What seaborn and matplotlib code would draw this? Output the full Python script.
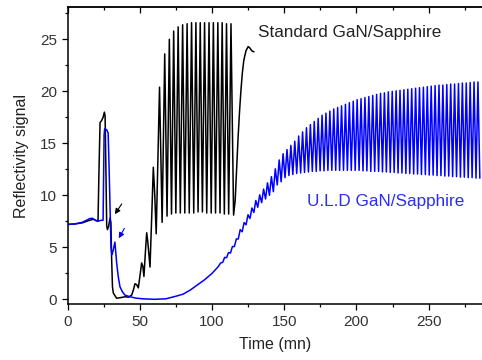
import pandas as pd
import seaborn as sns
from matplotlib import pyplot as plt
from matplotlib.ticker import MultipleLocator, NullFormatter

# Standard GaN/Sapphire (black) - slow part before the oscillations
std_t = [0, 5, 10, 15, 18, 20, 21, 21.6, 22.4, 23.5, 24.5, 25.4, 25.9, 26.5, 27.0, 27.5,
         28.3, 29.3, 29.9, 30.4, 31.0, 31.6, 32.5, 33.9, 36, 38, 40, 42, 44.3, 45.5, 46.6,
         47.8, 48.9, 50, 51.2, 52.0, 52.8, 53.8, 54.7, 55.5, 57.0, 58.2, 59.3, 60.3, 61.3]
std_v = [7.2, 7.25, 7.35, 7.6, 7.7, 7.55, 7.6, 12, 17.0, 17.2, 17.5, 18.0, 17.6, 12, 7.1, 6.7,
         7.0, 7.8, 7.4, 4, 1.2, 0.6, 0.4, 0.1, 0.15, 0.2, 0.25, 0.2, 0.4, 0.9, 1.5,
         1.4, 1.1, 2.2, 3.5, 3.2, 2.2, 4.5, 6.4, 5.5, 3.1, 8.0, 12.7, 10, 6.3]
# oscillation maxima / minima
std_peak_t = [63.6, 67.2, 70.4, 73.4, 76.5, 79.6, 82.7, 85.8, 88.8, 91.8, 94.8, 97.9,
              100.9, 104.0, 107.0, 110.0, 113.1]
std_peak_v = [20.4, 23.6, 25.0, 25.8, 26.2, 26.4, 26.5, 26.6, 26.6, 26.6, 26.6, 26.6,
              26.6, 26.6, 26.6, 26.5, 26.5]
std_trough_t = [65.4, 68.8, 71.9, 74.9, 78.0, 81.1, 84.2, 87.3, 90.3, 93.3, 96.3, 99.4,
                102.4, 105.5, 108.5, 111.5, 114.9]
std_trough_v = [7.4, 8.0, 8.2, 8.3, 8.3, 8.3, 8.3, 8.3, 8.4, 8.4, 8.3, 8.3,
                8.3, 8.3, 8.2, 8.2, 8.1]
# final rise
std_end_t = [116, 117, 118, 119, 120, 121, 122, 123.5, 125, 126, 127.5, 129]
std_end_v = [9.5, 12.5, 15.5, 18, 20.1, 21.8, 23.0, 23.9, 24.3, 24.2, 23.9, 23.8]

# U.L.D GaN/Sapphire (blue) - slow part
uld_t = [0, 5, 10, 13, 15, 17, 19, 21, 23, 24.5, 25.2, 25.6, 27.0, 28.0, 28.6, 29.3, 30.0,
         30.6, 31.3, 32.7, 33.9, 35.0, 36.2, 38, 39.7, 43, 47, 52, 60, 68, 75, 80, 85, 90,
         95, 100, 104]
uld_v = [7.2, 7.25, 7.4, 7.6, 7.75, 7.8, 7.6, 7.5, 7.6, 7.6, 15.8, 16.4, 16.3, 16.0, 13, 9, 5.0,
         4.3, 4.6, 5.5, 3.5, 2.2, 1.2, 0.7, 0.4, 0.25, 0.12, 0.05, 0.0, 0.05, 0.3, 0.5, 0.9, 1.4,
         1.9, 2.5, 3.1]
uld_peak_t = [106.0, 108.7, 111.4, 114.1, 116.8, 119.5, 122.2, 124.9, 127.6, 130.3, 133.0,
              135.7, 138.4, 141.1, 143.8, 146.5, 149.2, 151.9, 154.6, 157.3, 160.0, 162.7,
              165.4, 168.1, 170.8, 173.5, 176.2, 178.9, 181.6, 184.3, 187.0, 189.7, 192.4,
              195.1, 197.8, 200.5, 203.2, 205.9, 208.6, 211.3, 214.0, 216.7, 219.4, 222.1,
              224.8, 227.5, 230.2, 232.9, 235.6, 238.3, 241.0, 243.7, 246.4, 249.1, 251.8,
              254.5, 257.2, 259.9, 262.6, 265.3, 268.0, 270.7, 273.4, 276.1, 278.8, 281.5,
              284.2]
uld_peak_v = [3.5, 4.03, 4.5, 5.08, 5.8, 6.7, 7.38, 8.13, 8.78, 9.5, 10.05,
              10.6, 11.2, 11.8, 12.55, 13.4, 14.0, 14.4, 14.8, 15.2, 15.7, 16.1,
              16.5, 16.8, 17.1, 17.4, 17.7, 17.9, 18.1, 18.3, 18.45, 18.6, 18.75,
              18.9, 19.05, 19.2, 19.3, 19.4, 19.5, 19.6, 19.7, 19.8, 19.85, 19.95,
              20.0, 20.05, 20.1, 20.15, 20.2, 20.25, 20.3, 20.35, 20.4, 20.45, 20.5,
              20.55, 20.6, 20.6, 20.65, 20.7, 20.7, 20.75, 20.8, 20.8, 20.85, 20.9,
              20.9]
uld_trough_t = [107.35, 110.05, 112.75, 115.45, 118.15, 120.85, 123.55, 126.25, 128.95,
                131.65, 134.35, 137.05, 139.75, 142.45, 145.15, 147.85, 150.55, 153.25,
                155.95, 158.65, 161.35, 164.05, 166.75, 169.45, 172.15, 174.85, 177.55,
                180.25, 182.95, 185.65, 188.35, 191.05, 193.75, 196.45, 199.15, 201.85,
                204.55, 207.25, 209.95, 212.65, 215.35, 218.05, 220.75, 223.45, 226.15,
                228.85, 231.55, 234.25, 236.95, 239.65, 242.35, 245.05, 247.75, 250.45,
                253.15, 255.85, 258.55, 261.25, 263.95, 266.65, 269.35, 272.05, 274.75,
                277.45, 280.15, 282.85, 285.5]
uld_trough_v = [3.55, 4.0, 4.45, 5.07, 5.8, 6.5, 7.17, 7.77, 8.35,
                8.85, 9.3, 9.65, 10.0, 10.35, 11.0, 11.3, 11.7, 11.9,
                12.0, 12.1, 12.15, 12.2, 12.25, 12.3, 12.3, 12.35, 12.35,
                12.4, 12.4, 12.4, 12.4, 12.4, 12.4, 12.4, 12.4, 12.4,
                12.35, 12.35, 12.3, 12.3, 12.3, 12.25, 12.25, 12.2, 12.2,
                12.15, 12.15, 12.1, 12.1, 12.05, 12.05, 12.0, 12.0, 11.95,
                11.95, 11.9, 11.9, 11.85, 11.85, 11.8, 11.8, 11.75, 11.75,
                11.7, 11.7, 11.65, 11.65]


def build(parts):
    df = pd.concat([pd.DataFrame({'t': t, 'v': v}) for t, v in parts])
    return df.sort_values('t').reset_index(drop=True)


std = build([(std_t, std_v), (std_peak_t, std_peak_v), (std_trough_t, std_trough_v),
             (std_end_t, std_end_v)])
uld = build([(uld_t, uld_v), (uld_peak_t, uld_peak_v), (uld_trough_t, uld_trough_v)])

sns.set_style('ticks')
plt.rcParams['font.family'] = ['Liberation Sans', 'DejaVu Sans']

fig = plt.figure(figsize=(4.82, 3.6), dpi=100)
ax = fig.add_axes([0.1405, 0.1547, 0.8595, 0.825])

sns.lineplot(data=std, x='t', y='v', color='black', lw=1.1, sort=False,
             estimator=None, ax=ax)
sns.lineplot(data=uld, x='t', y='v', color='#0000ff', lw=1.1, sort=False,
             estimator=None, ax=ax)

ax.set_xlim(0, 287)
ax.set_ylim(-0.48, 28.08)
ax.xaxis.set_major_locator(MultipleLocator(50))
ax.xaxis.set_minor_locator(MultipleLocator(25))
ax.yaxis.set_major_locator(MultipleLocator(5))
ax.yaxis.set_minor_locator(MultipleLocator(2.5))
ax.tick_params(which='both', colors='black', labelcolor='#333333', labelsize=11,
               width=0.9, direction='out')
ax.tick_params(which='major', length=4)
ax.tick_params(which='minor', length=2.5)
for sp in ['left', 'bottom', 'top']:
    ax.spines[sp].set_linewidth(1.1)
    ax.spines[sp].set_color('black')
ax.spines['top'].set_visible(True)
ax.spines['right'].set_visible(False)

# mirrored ticks on the top spine, pointing inward
top = ax.secondary_xaxis('top')
top.xaxis.set_major_locator(MultipleLocator(50))
top.xaxis.set_minor_locator(MultipleLocator(25))
top.xaxis.set_major_formatter(NullFormatter())
top.tick_params(which='both', direction='in', width=0.9, colors='black')
top.tick_params(which='major', length=4)
top.tick_params(which='minor', length=2.5)
top.spines['top'].set_linewidth(1.1)

ax.set_xlabel('Time (mn)', fontsize=11.5, color='#222222', labelpad=6)
ax.set_ylabel('Reflectivity signal', fontsize=11.5, color='#222222', labelpad=8)

ax.text(131.6, 25.67, 'Standard GaN/Sapphire', fontsize=12.3, color='#222222',
        ha='left', va='center')
ax.text(165.5, 9.45, 'U.L.D GaN/Sapphire', fontsize=12.3, color='#2b2bff',
        ha='left', va='center')

ax.annotate('', xy=(31.6, 7.96), xytext=(38.5, 9.4),
            arrowprops=dict(arrowstyle='-|>', color='black', lw=0.8, mutation_scale=8))
ax.annotate('', xy=(34.4, 5.64), xytext=(40.2, 7.05),
            arrowprops=dict(arrowstyle='-|>', color='#0000ff', lw=0.8, mutation_scale=8))

fig.savefig('out.png', dpi=100)
